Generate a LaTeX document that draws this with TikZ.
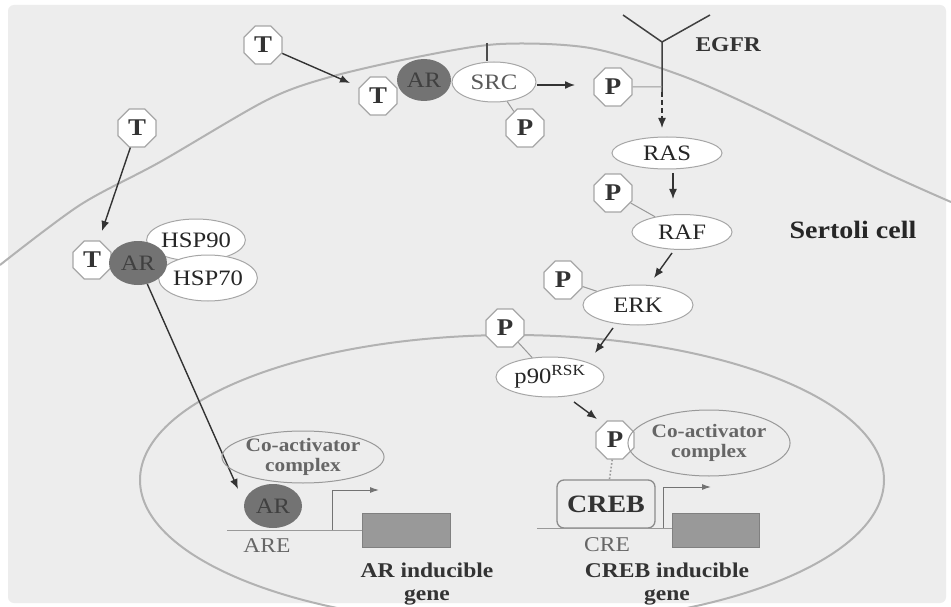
\documentclass[tikz,border=0pt]{standalone}
\usepackage{fontspec}
\setmainfont[FakeStretch=1.12]{Liberation Serif}
\usetikzlibrary{shapes.geometric,arrows.meta}
\begin{document}
\begin{tikzpicture}[x=1pt,y=-1pt,
 oct/.style={draw=black!35,line width=1.3pt,fill=white,regular polygon,regular polygon sides=8,minimum size=41pt,inner sep=0pt,font=\fontsize{24}{24}\selectfont\bfseries,text=black!80},
 ell/.style={draw=black!35,line width=1pt,fill=white,ellipse,inner sep=0pt,font=\fontsize{22}{22}\selectfont,text=black!85},
 arn/.style={ellipse,fill=black!55,inner sep=0pt,font=\fontsize{22}{22}\selectfont,text=black!75},
 arr/.style={draw=black!80,line width=1.4pt,-{Latex[length=10pt,width=8pt]}},
 thinarr/.style={draw=black!55,line width=1pt,-{Latex[length=9pt,width=6pt]}},
 memb/.style={draw=black!30,line width=2pt},
 link/.style={draw=black!40,line width=1pt},
 gene/.style={draw=black!50,fill=black!40,line width=1pt},
 coact/.style={draw=black!40,line width=1pt,ellipse,inner sep=0pt,align=center,font=\fontsize{19}{19.5}\selectfont\bfseries,text=black!60},
 lab/.style={font=\fontsize{21}{23}\selectfont\bfseries,text=black!80,align=center},
 site/.style={font=\fontsize{21}{21}\selectfont,text=black!60}
]
\useasboundingbox (0,0) rectangle (951,607);
\fill[white] (0,0) rectangle (951,607);
\fill[black!7,rounded corners=6pt] (8,5) rectangle (946,603);

% membranes
\draw[memb] plot[smooth] coordinates {(0,265) (80,205) (160,162) (267,100) (330,77) (417,57) (500,44) (590,48) (680,75) (760,110) (880,170) (951,202)};
\begin{scope}
\clip (0,0) rectangle (951,607);
\draw[memb] (512,480) ellipse [x radius=372, y radius=145];
\end{scope}

% top: non-classical pathway
\node[oct] (T1) at (263,45) {T};
\coordinate (a1) at (350,83);
\draw[arr] (T1) -- (a1);
\node[oct] (T2) at (378,96) {T};
\node[ell,minimum width=84pt,minimum height=40pt,text=black!65] (SRC) at (494,82) {SRC};
\node[arn,minimum width=54pt,minimum height=42pt] (AR1) at (424,80) {AR};
\coordinate (tick) at (487,43);
\draw[black!70,line width=1.4pt] (tick) -- (tick |- SRC.north);
\node[oct] (P1) at (525,128) {P};
\draw[link] (SRC) -- (P1);
\coordinate (a2) at (575,85);
\draw[arr] (SRC.east |- a2) -- (a2);

% EGFR
\coordinate (eg) at (662,42);
\coordinate (egl) at (623,15);
\coordinate (egr) at (710,15);
\coordinate (egs) at (662,92);
\draw[black!75,line width=1.5pt] (egl) -- (eg) -- (egr) (eg) -- (egs);
\node[lab,anchor=west] (EGFR) at (692,45) {EGFR};
\node[oct] (P2) at (613,87) {P};
\draw[link] (P2) -- (egs |- P2);
\coordinate (a3) at (662,128);
\draw[arr,dash pattern=on 5pt off 3pt] (egs) -- (a3);

% MAPK cascade
\node[ell,minimum width=110pt,minimum height=32pt] (RAS) at (667,153) {RAS};
\coordinate (r1) at (673,173);
\coordinate (r2) at (673,199);
\draw[arr] (r1) -- (r2);
\node[oct] (P3) at (613,193) {P};
\node[ell,minimum width=100pt,minimum height=35pt] (RAF) at (682,232) {RAF};
\draw[link] (P3) -- (RAF);
\node[lab,font=\fontsize{25}{25}\selectfont\bfseries,text=black!85] (sert) at (853,230) {Sertoli cell};
\coordinate (f1) at (672,253);
\coordinate (f2) at (654,278);
\draw[arr] (f1) -- (f2);
\node[oct] (P4) at (563,280) {P};
\node[ell,minimum width=110pt,minimum height=40pt] (ERK) at (638,305) {ERK};
\draw[link] (P4) -- (ERK);
\coordinate (e1) at (613,328);
\coordinate (e2) at (595,353);
\draw[arr] (e1) -- (e2);
\node[oct] (P5) at (505,328) {P};
\node[ell,minimum width=108pt,minimum height=40pt] (p90) at (550,377) {p90\textsuperscript{RSK}};
\draw[link] (P5) -- (p90);
\coordinate (q1) at (574,402);
\coordinate (q2) at (597,419);
\draw[arr] (q1) -- (q2);

% CREB
\node[oct] (P6) at (615,440) {P};
\node[coact,minimum width=154pt,minimum height=66pt] (CoR) at (709,443) {Co-activator\\complex};
\node[draw=black!45,line width=1.3pt,rounded corners=7pt,minimum width=98pt,minimum height=48pt,inner sep=0pt,font=\fontsize{25}{25}\selectfont\bfseries,text=black!80] (CREB) at (606,504) {CREB};
\draw[black!40,dotted,line width=1.6pt] (P6) -- (CREB);
\coordinate (b2l) at (537,528);
\coordinate (b2r) at (673,528);
\draw[link] (b2l) -- (b2r);
\node[gene,minimum width=87pt,minimum height=34pt] (G2) at (716,530) {};
\coordinate (t2) at (663,528);
\coordinate (t2e) at (711,487);
\draw[thinarr] (t2) |- (t2e);
\node[site] (CRE) at (607,545) {CRE};
\node[lab] (CREBgene) at (667,584) {CREB inducible\\gene};

% left: classical pathway
\node[oct] (T3) at (137,128) {T};
\coordinate (c1) at (102,231);
\draw[arr] (T3) -- (c1);
\node[oct] (T4) at (92,260) {T};
\node[ell,minimum width=98pt,minimum height=42pt] (H90) at (196,240) {HSP90};
\node[ell,minimum width=96pt,minimum height=46pt] (H70) at (208,278) {HSP70};
\node[arn,minimum width=58pt,minimum height=44pt] (AR2) at (138,263) {AR};
\coordinate (c2) at (238,489);
\draw[arr] (AR2) -- (c2);

\node[coact,minimum width=150pt,minimum height=52pt] (CoL) at (303,457) {Co-activator\\complex};
\node[arn,minimum width=58pt,minimum height=44pt] (AR3) at (273,506) {AR};
\coordinate (b1l) at (227,530);
\coordinate (b1r) at (362,530);
\draw[link] (b1l) -- (b1r);
\node[gene,minimum width=88pt,minimum height=34pt] (G1) at (406,530) {};
\coordinate (t1) at (332,530);
\coordinate (t1e) at (379,490);
\draw[thinarr] (t1) |- (t1e);
\node[site] (ARE) at (267,546) {ARE};
\node[lab] (ARgene) at (427,584) {AR inducible\\gene};
\end{tikzpicture}
\end{document}
